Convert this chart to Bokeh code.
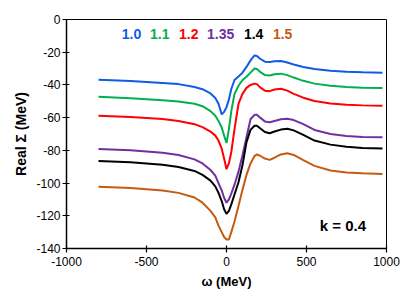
from bokeh.plotting import figure
from bokeh.models import Label, FixedTicker
from bokeh.embed import file_html
from bokeh.resources import INLINE

omega = [-800, -600, -400, -300, -200, -150, -100, -70, -50, -30, -15, 0, 15, 30, 50, 75,
         100, 125, 150, 175, 190, 210, 240, 270, 300, 340, 380, 420, 480, 550, 650, 750, 850, 975]

s_10 = [-36.8, -37.6, -38.8, -39.5, -41.3, -42.6, -45.2, -48.0, -51.5, -58.0, -56.5, -53.6, -49.0, -42.5, -37.0, -34.8,
        -32.5, -29.0, -25.0, -22.0, -22.3, -24.0, -25.8, -26.0, -25.5, -25.4, -26.3, -27.5, -29.0, -30.2, -31.3, -31.9, -32.2, -32.5]
s_11 = [-47.2, -48.2, -49.4, -50.2, -51.5, -53.0, -56.0, -58.8, -62.0, -66.0, -71.0, -75.5, -67.0, -56.0, -45.5, -40.5,
        -37.0, -35.0, -32.5, -30.0, -30.3, -32.0, -34.0, -34.2, -33.5, -33.1, -34.0, -35.5, -37.5, -39.2, -40.5, -41.3, -41.7, -41.9]
s_12 = [-58.9, -59.6, -60.8, -62.0, -64.0, -65.8, -68.5, -71.0, -74.0, -79.0, -85.0, -91.5, -88.0, -81.0, -67.0, -51.5,
        -45.5, -41.8, -40.0, -39.2, -39.5, -41.5, -43.5, -43.8, -42.8, -42.3, -43.5, -45.5, -47.8, -49.8, -51.3, -52.1, -52.5, -52.7]
s_135 = [-79.1, -80.0, -81.5, -82.8, -85.5, -88.0, -92.0, -95.5, -100.0, -104.5, -109.0, -112.0, -110.0, -106.5, -101.0, -93.0,
         -83.0, -72.0, -61.0, -58.3, -58.3, -60.0, -62.3, -62.8, -62.0, -61.0, -60.7, -61.5, -64.0, -67.5, -70.0, -71.2, -71.8, -72.0]
s_14 = [-86.5, -87.3, -88.8, -90.2, -92.6, -95.0, -98.5, -102.0, -106.0, -111.0, -116.0, -118.8, -117.0, -113.0, -107.0, -99.5,
        -89.0, -75.0, -67.5, -65.0, -65.0, -66.5, -68.8, -69.5, -68.5, -67.3, -66.8, -67.8, -70.5, -74.0, -76.5, -77.8, -78.5, -78.9]
s_15 = [-102.2, -103.0, -104.5, -106.0, -108.8, -112.0, -117.0, -121.0, -126.0, -130.0, -133.0, -134.5, -134.5, -130.0, -123.5, -114.0,
        -104.0, -95.0, -88.0, -83.5, -82.5, -83.3, -85.0, -85.8, -84.5, -82.5, -81.8, -82.8, -86.0, -89.5, -92.3, -93.5, -94.0, -94.4]

series_names = ["1.0", "1.1", "1.2", "1.35", "1.4", "1.5"]
series_values = [s_10, s_11, s_12, s_135, s_14, s_15]
series_colors = ["#0F5CE6", "#00B050", "#FF0000", "#7030A0", "#000000", "#C55A11"]
label_x = [-655, -478, -297, -122, 109, 290]

x_ticks = [-1000, -500, 0, 500, 1000]
y_ticks = [0, -20, -40, -60, -80, -100, -120, -140]

FONT = "Liberation Sans"

p = figure(width=400, height=296, output_backend="svg", toolbar_location=None,
           x_range=(-1000, 1000), y_range=(-140, 0),
           min_border_left=66, min_border_right=14, min_border_top=19, min_border_bottom=48)

p.xgrid.visible = False
p.ygrid.visible = False
p.outline_line_color = "black"
p.outline_line_width = 1

for vals, col in zip(series_values, series_colors):
    p.line(omega, vals, line_color=col, line_width=2)

for name, col, lx in zip(series_names, series_colors, label_x):
    p.add_layout(Label(x=lx, y=-8.6, text=name, text_color=col, text_font=FONT,
                       text_font_size="14px", text_font_style="bold",
                       text_align="left", text_baseline="middle"))

p.add_layout(Label(x=728, y=-126, text="k = 0.4", text_color="black", text_font=FONT,
                   text_font_size="15px", text_font_style="bold",
                   text_align="center", text_baseline="middle"))

for ax in (p.xaxis[0], p.yaxis[0]):
    ax.axis_line_color = "black"
    ax.axis_line_width = 1.5
    ax.major_tick_line_color = "black"
    ax.major_tick_line_width = 1.2
    ax.major_tick_in = 3
    ax.major_tick_out = 4
    ax.minor_tick_line_color = None
    ax.major_label_text_font = FONT
    ax.major_label_text_font_size = "12px"
    ax.major_label_text_color = "black"
    ax.axis_label_text_font = FONT
    ax.axis_label_text_font_style = "bold"
    ax.axis_label_text_color = "black"

p.xaxis.ticker = FixedTicker(ticks=x_ticks)
p.yaxis.ticker = FixedTicker(ticks=y_ticks)
p.xaxis.major_label_overrides = {t: str(t) for t in x_ticks}
p.yaxis.major_label_overrides = {t: str(t) for t in y_ticks}
p.xaxis.axis_label = "ω (MeV)"
p.yaxis.axis_label = "Real Σ (MeV)"
p.xaxis.axis_label_text_font_size = "13px"
p.yaxis.axis_label_text_font_size = "14px"
p.xaxis.major_label_standoff = 4
p.yaxis.major_label_standoff = 2
p.xaxis.axis_label_standoff = 5
p.yaxis.axis_label_standoff = 4

open("out.html", "w").write(file_html(p, INLINE))
